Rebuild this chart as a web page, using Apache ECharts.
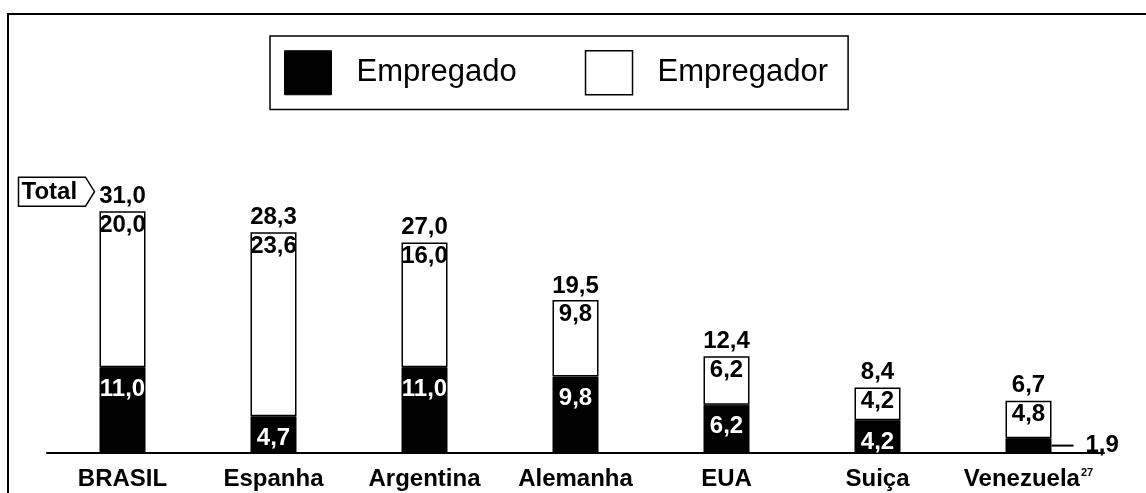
<!DOCTYPE html>
<html>
<head>
<meta charset="utf-8">
<script src="https://cdn.jsdelivr.net/npm/echarts/dist/echarts.min.js"></script>
<style>
  html, body { margin: 0; padding: 0; background: #fff; }
  #chart { width: 1146px; height: 493px; }
</style>
</head>
<body>
<div id="chart"></div>
<script>
var categories = ["BRASIL", "Espanha", "Argentina", "Alemanha", "EUA", "Suiça", "Venezuela"];
var empregado = [11.0, 4.7, 11.0, 9.8, 6.2, 4.2, 1.9];
var empregador = [20.0, 23.6, 16.0, 9.8, 6.2, 4.2, 4.8];
var totals = [31.0, 28.3, 27.0, 19.5, 12.4, 8.4, 6.7];
var footnotes = { Venezuela: "27" };

var FONT = "'Liberation Sans', Arial, sans-serif";

function fmt(v) {
  return v.toFixed(1).replace(".", ",");
}

var chart = echarts.init(document.getElementById("chart"));

// barras pretas: rótulo branco dentro; barra baixa demais leva rótulo de fora com traço
var empregadoData = empregado.map(function (v) {
  if (v >= 3) return v;
  return {
    value: v,
    label: {
      position: "right",
      distance: 0,
      color: "#000",
      formatter: "{ln|}{v|" + fmt(v) + "}",
      rich: {
        ln: { width: 22, height: 2, backgroundColor: "#000" },
        v: { fontFamily: FONT, fontSize: 24, fontWeight: "bold", color: "#000", padding: [0, 0, 0, 12] }
      }
    }
  };
});

chart.setOption({
  animation: false,
  backgroundColor: "#fff",
  textStyle: { fontFamily: FONT },
  grid: { left: 47, right: 42, top: 141, bottom: 40 },
  legend: {
    left: 270,
    top: 36,
    padding: [14, 20, 14, 14],
    borderColor: "#000",
    borderWidth: 1.5,
    itemWidth: 47,
    itemHeight: 44,
    itemGap: 68,
    icon: "rect",
    textStyle: { fontFamily: FONT, fontSize: 31, color: "#000", padding: [0, 0, 0, 20] },
    data: [
      { name: "Empregado", itemStyle: { color: "#000", borderColor: "#000", borderWidth: 1 } },
      { name: "Empregador", itemStyle: { color: "#fff", borderColor: "#000", borderWidth: 1.5 } }
    ]
  },
  xAxis: {
    type: "category",
    data: categories,
    axisLine: { lineStyle: { color: "#000", width: 2 } },
    axisTick: { show: false },
    axisLabel: {
      interval: 0,
      margin: 14,
      formatter: function (v) {
        return footnotes[v] ? "{b|" + v + "}{sup|" + footnotes[v] + "}" : "{b|" + v + "}";
      },
      rich: {
        b: { fontFamily: FONT, fontSize: 24, fontWeight: "bold", color: "#000" },
        sup: { fontFamily: FONT, fontSize: 11, fontWeight: "bold", color: "#000", padding: [0, 0, 14, 1] }
      }
    }
  },
  yAxis: {
    type: "value",
    min: 0,
    max: 40,
    show: false,
    splitLine: { show: false }
  },
  series: [
    {
      name: "Empregado",
      type: "bar",
      stack: "a",
      barWidth: 46,
      data: empregadoData,
      itemStyle: { color: "#000", borderColor: "#000", borderWidth: 1 },
      label: {
        show: true,
        position: "insideTop",
        distance: 10,
        color: "#fff",
        fontFamily: FONT,
        fontSize: 24,
        fontWeight: "bold",
        formatter: function (p) { return fmt(p.value); }
      }
    },
    {
      name: "Empregador",
      type: "bar",
      stack: "a",
      barWidth: 46,
      data: empregador,
      itemStyle: { color: "#fff", borderColor: "#000", borderWidth: 1.5 },
      label: {
        show: true,
        position: "insideTop",
        distance: 2,
        color: "#000",
        fontFamily: FONT,
        fontSize: 24,
        fontWeight: "bold",
        formatter: function (p) { return fmt(p.value); }
      }
    },
    {
      name: "Total",
      type: "scatter",
      data: totals,
      symbolSize: 0,
      itemStyle: { color: "#000", opacity: 1 },
      silent: true,
      label: {
        show: true,
        position: "top",
        distance: 3,
        color: "#000",
        opacity: 1,
        fontFamily: FONT,
        fontSize: 24,
        fontWeight: "bold",
        formatter: function (p) { return fmt(p.value); }
      }
    }
  ]
});

// moldura e etiqueta "Total" ao lado do primeiro total
var p = chart.convertToPixel({ xAxisIndex: 0, yAxisIndex: 0 }, [0, totals[0]]);
var cx = p[0], ty = p[1];
var bx0 = cx - 104, bx1 = cx - 37, tip = cx - 28, by0 = ty - 34, by1 = ty - 5;
chart.setOption({
  graphic: [
    {
      type: "polyline",
      shape: { points: [[8, 493], [8, 14], [1146, 14]] },
      style: { stroke: "#000", lineWidth: 2, fill: null }
    },
    {
      type: "polygon",
      shape: { points: [[bx0, by0], [bx1, by0], [tip, (by0 + by1) / 2], [bx1, by1], [bx0, by1]] },
      style: { fill: "#fff", stroke: "#000", lineWidth: 1.5 }
    },
    {
      type: "text",
      left: bx0 + 3,
      top: by0 + 3,
      style: { text: "Total", font: "bold 24px " + FONT, fill: "#000" }
    }
  ]
});
</script>
</body>
</html>
